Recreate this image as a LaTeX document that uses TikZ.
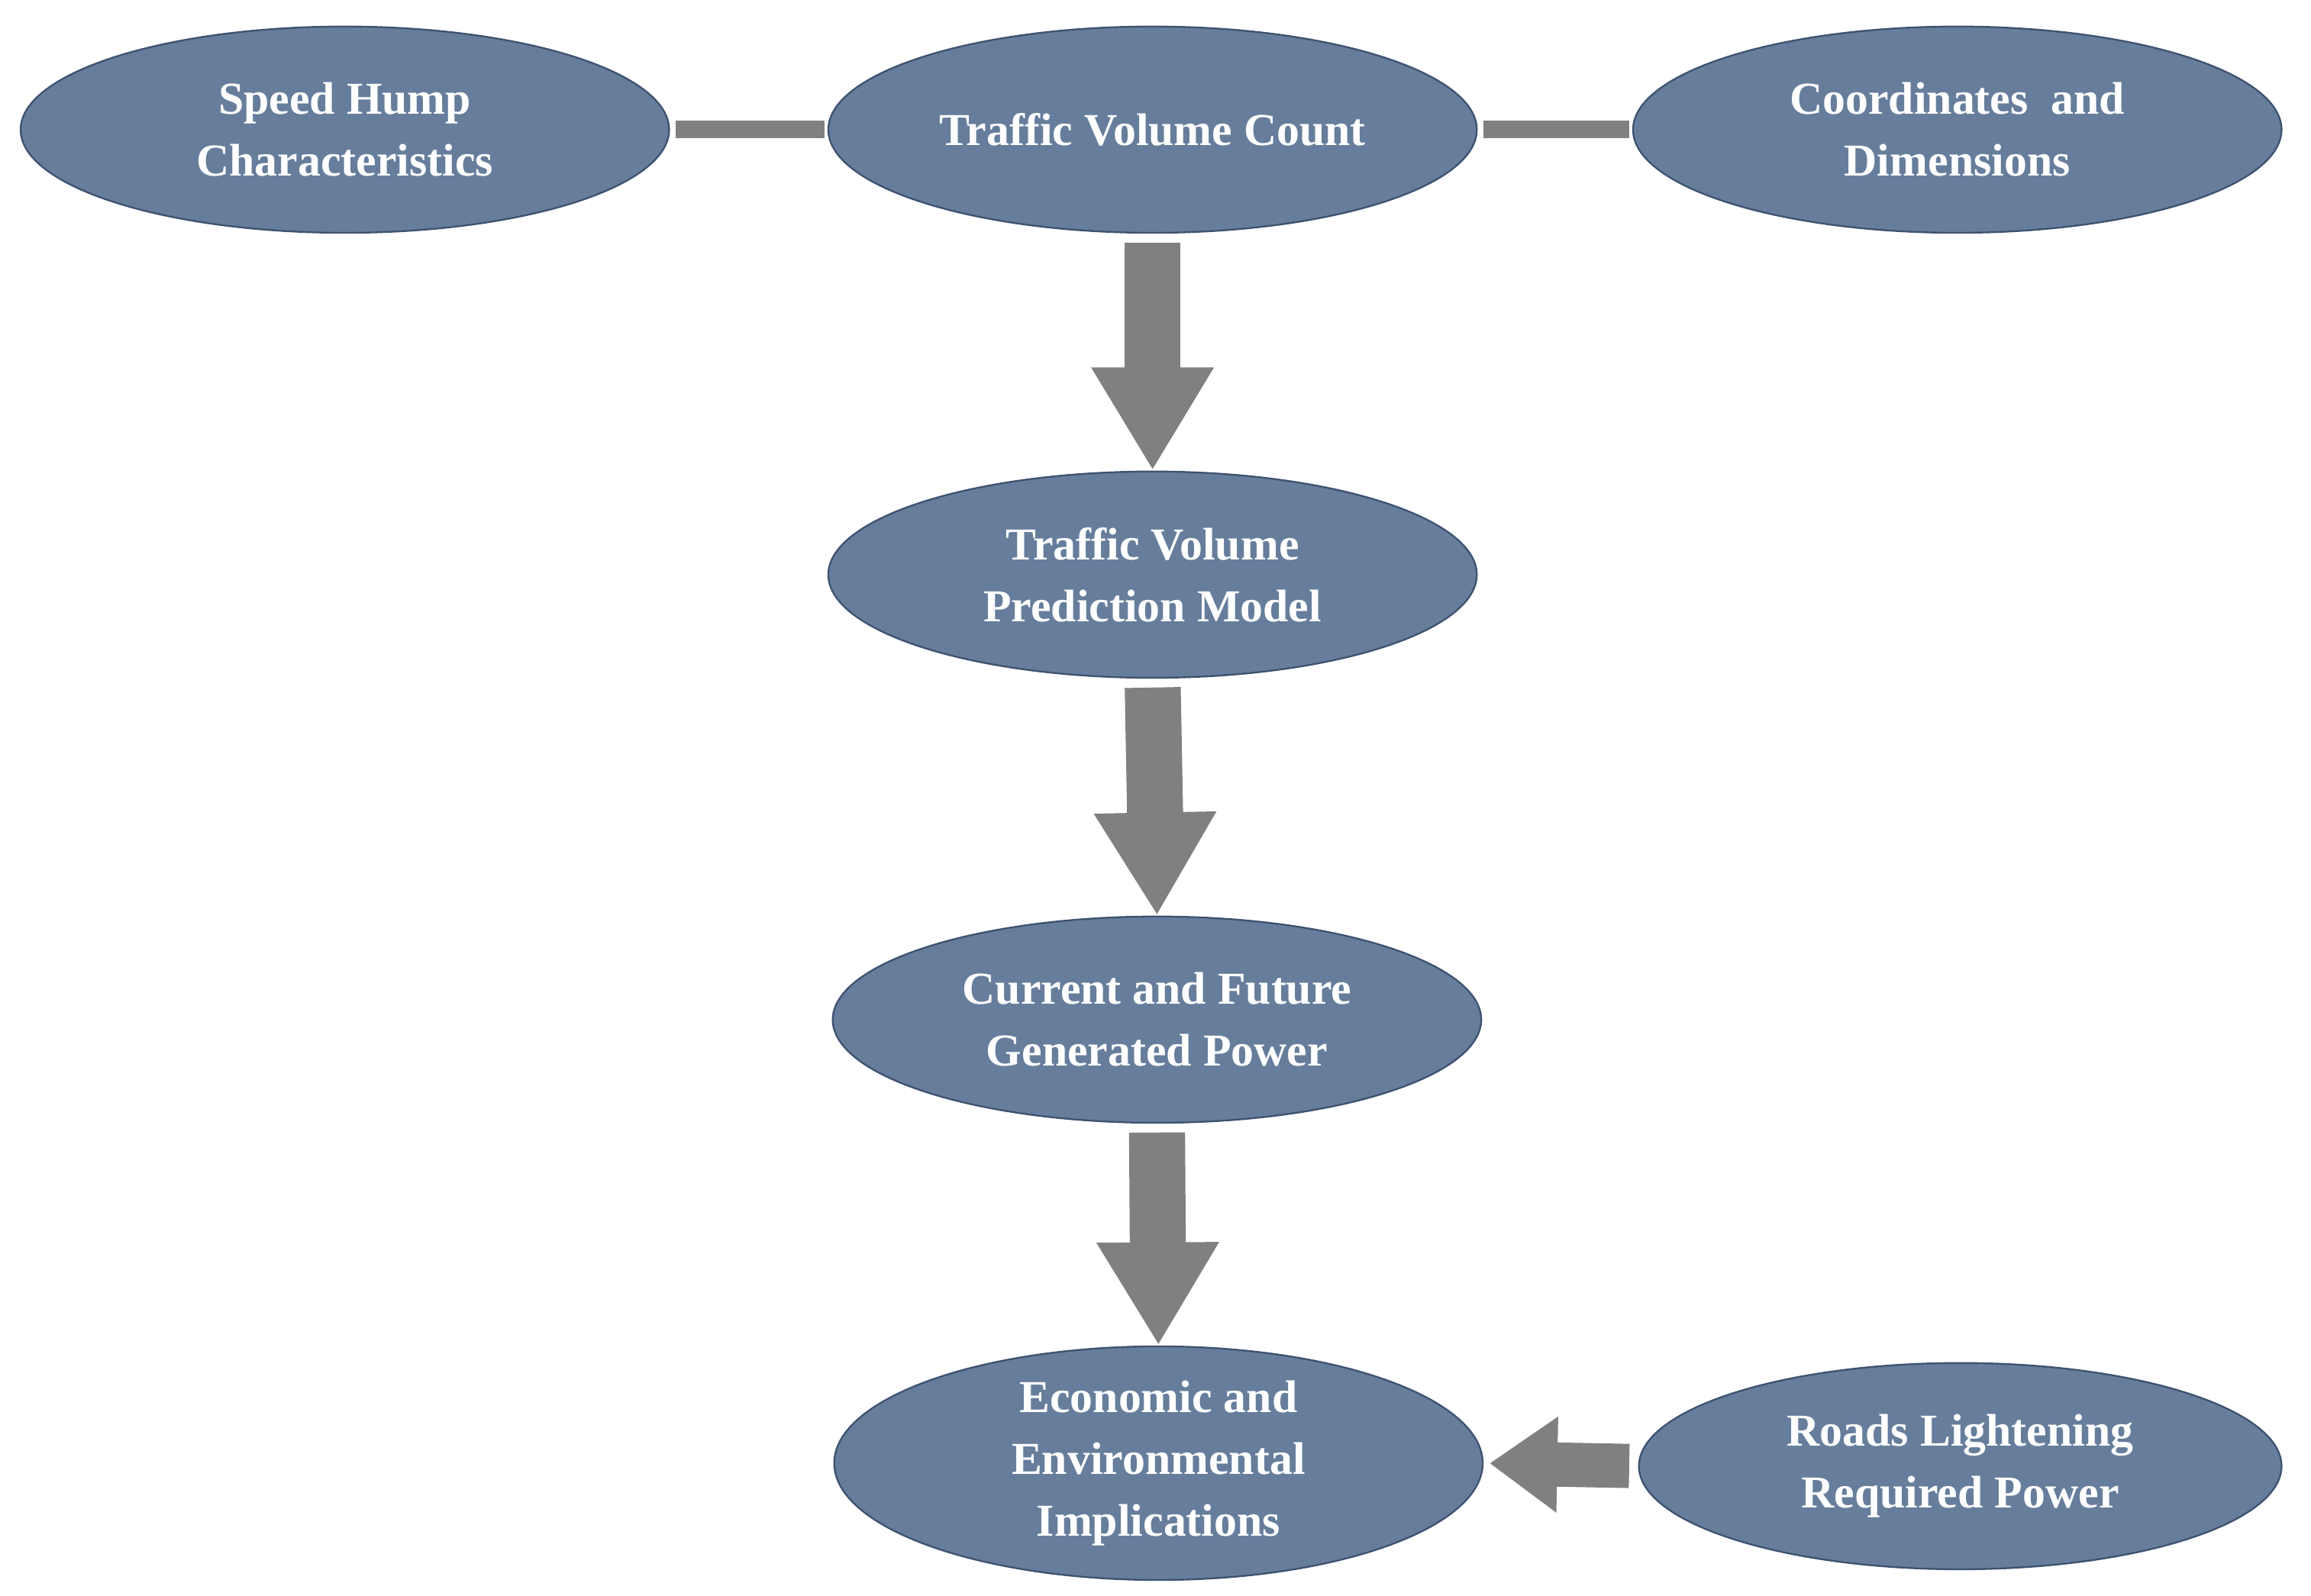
\documentclass[tikz,border=0pt]{standalone}
\usepackage{fontspec}
\setmainfont{Liberation Serif}
\usetikzlibrary{shapes.geometric,arrows.meta}
\definecolor{ellfill}{HTML}{667E9C}
\definecolor{ellline}{HTML}{3E5270}
\definecolor{arr}{HTML}{808080}
\begin{document}
\begin{tikzpicture}[x=1pt,y=-1pt,
  ell/.style={ellipse,draw=ellline,line width=1.2pt,fill=ellfill,minimum width=440pt,minimum height=140pt,inner sep=0pt,
    text=white,font=\fontsize{31}{42}\selectfont\bfseries,align=center},
  bar/.style={draw=arr,line width=12pt},
  big/.style={draw=arr,line width=38pt,-{Triangle[width=78pt,length=70pt]},shorten <=6pt},
  small/.style={draw=arr,line width=30pt,-{Triangle[width=62pt,length=46pt]},shorten <=6pt,shorten >=4pt}]
\useasboundingbox (0,0) rectangle (1568,1083);
\node[ell] (sh) at (234,88) {Speed Hump\\Characteristics};
\node[ell] (tv) at (782,88) {Traffic Volume Count};
\node[ell] (cd) at (1328,88) {Coordinates\ \ and\\Dimensions};
\node[ell] (pm) at (782,390) {Traffic Volume\\Prediction Model};
\node[ell] (cf) at (785,692) {Current and Future\\Generated Power};
\node[ell] (ee) at (786,993) {Economic and\\Environmental\\Implications};
\node[ell,minimum width=436pt] (rl) at (1330,995) {Roads Lightening\\Required Power};
\draw[bar,shorten <=4pt,shorten >=2pt] (sh.east) -- (tv.west);
\draw[bar,shorten <=4pt,shorten >=2pt] (tv.east) -- (cd.west);
\draw[big] (tv.south) -- (pm.north);
\draw[big] (pm.south) -- (cf.north);
\draw[big] (cf.south) -- (ee.north);
\draw[small] (rl.west) -- (ee.east);
\end{tikzpicture}
\end{document}
